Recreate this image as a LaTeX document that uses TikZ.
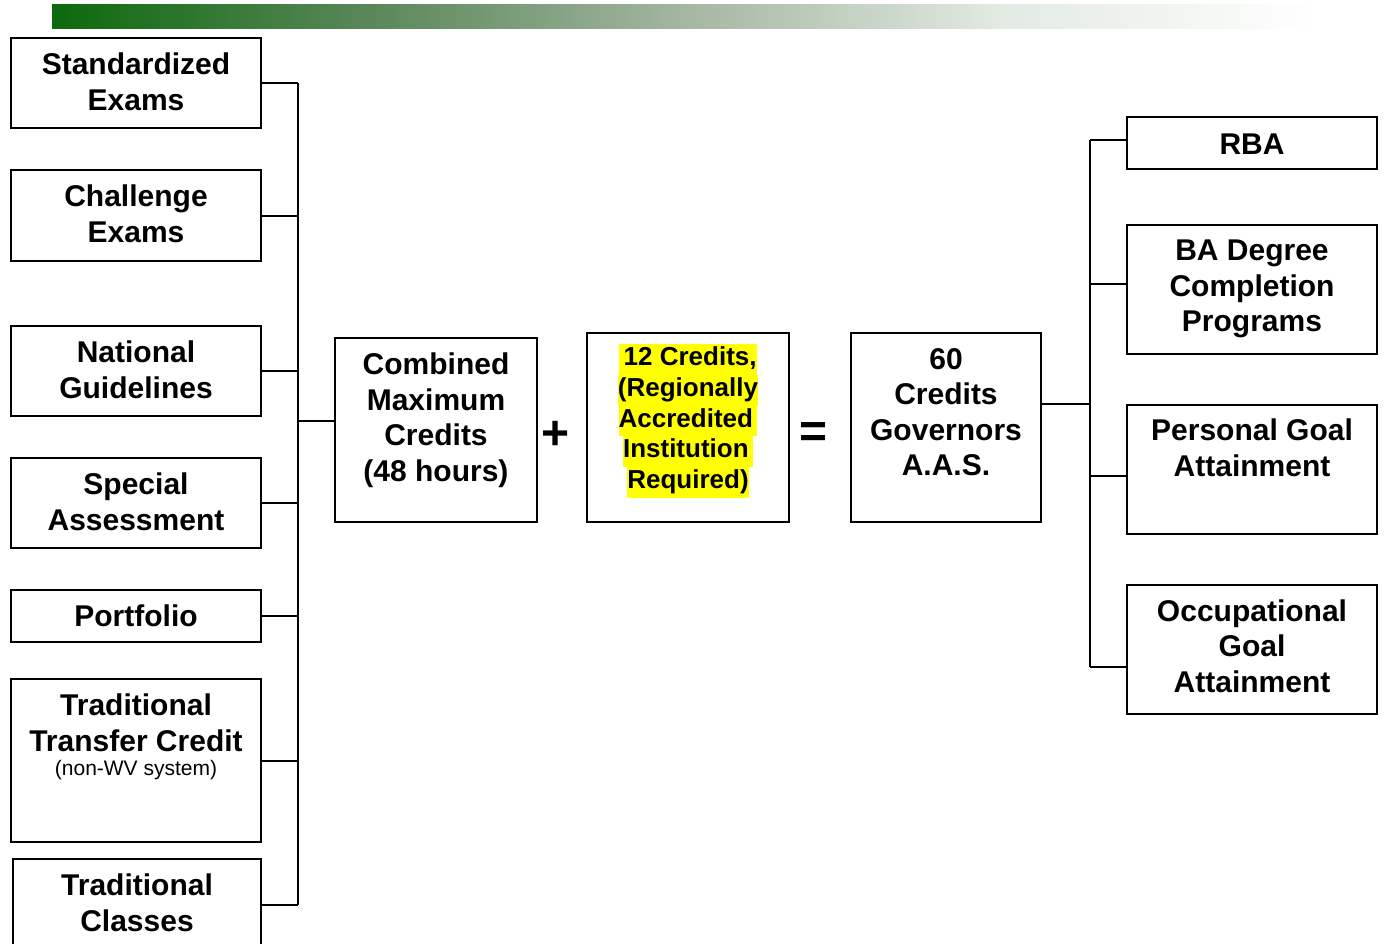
\documentclass[tikz,border=0pt]{standalone}
\usepackage{fontspec}
\setmainfont{Liberation Sans}
\definecolor{g0}{RGB}{12,105,12}
\definecolor{g1}{RGB}{90,135,90}
\definecolor{g2}{RGB}{165,182,162}
\definecolor{g3}{RGB}{226,234,226}
\definecolor{hly}{RGB}{255,255,0}
\pgfdeclarehorizontalshading{greenbar}{100bp}{color(0bp)=(g0); color(25bp)=(g0); color(37.5bp)=(g1); color(50bp)=(g2); color(62.5bp)=(g3); color(75bp)=(white); color(100bp)=(white)}
\newcommand{\hlline}[1]{{\setlength{\fboxsep}{0pt}\colorbox{hly}{\strut #1}}}
\begin{document}
\begin{tikzpicture}[x=1pt,y=-1pt,
  box/.style={draw, line width=2pt, inner sep=0pt, fill=white},
  lbl/.style={font=\bfseries\fontsize{30}{35.5}\selectfont, align=center, inner sep=0pt},
  sublbl/.style={font=\fontsize{21}{24}\selectfont, align=center, inner sep=0pt},
  hlbl/.style={font=\bfseries\fontsize{26}{30.75}\selectfont, align=center, inner sep=0pt},
  opsym/.style={font=\bfseries\fontsize{48}{56}\selectfont, inner sep=0pt},
  conn/.style={line width=2pt}]
\useasboundingbox (0,0) rectangle (1387,943);
\shade[shading=greenbar] (52,4) rectangle (1320,28);

% left boxes
\node[box, minimum width=250pt, minimum height=90pt] (se) at (136,83) {};
\node[box, minimum width=250pt, minimum height=91pt] (ce) at (136,215.5) {};
\node[box, minimum width=250pt, minimum height=90pt] (ng) at (136,371) {};
\node[box, minimum width=250pt, minimum height=90pt] (sa) at (136,503) {};
\node[box, minimum width=250pt, minimum height=52pt] (pf) at (136,616) {};
\node[box, minimum width=250pt, minimum height=163pt] (tt) at (136,760.5) {};
\node[box, minimum width=248pt, minimum height=91pt] (tc) at (137,904.5) {};

\node[lbl] (se-t) at (136,82) {Standardized\\Exams};
\node[lbl] (ce-t) at (136,214) {Challenge\\Exams};
\node[lbl] (ng-t) at (136,370) {National\\Guidelines};
\node[lbl] (sa-t) at (136,502) {Special\\Assessment};
\node[lbl] (pf-t) at (136,616) {Portfolio};
\node[lbl] (tt-t) at (136,723) {Traditional\\Transfer Credit};
\node[sublbl] (tt-s) at (136,770) {(non-WV system)};
\node[lbl] (tc-t) at (137,903) {Traditional\\Classes};

% middle boxes
\node[box, minimum width=202pt, minimum height=184pt] (cm) at (436,430) {};
\node[box, minimum width=202pt, minimum height=189pt] (yl) at (688,427.5) {};
\node[box, minimum width=190pt, minimum height=189pt] (sx) at (946,427.5) {};

\node[lbl] (cm-t) at (436,420) {Combined\\Maximum\\Credits\\(48 hours)};
\node[hlbl] (yl-t) at (688,421) {\hlline{\,12 Credits,}\\\hlline{(Regionally}\\\hlline{Accredited\,}\\\hlline{Institution\,}\\\hlline{Required)}};
\node[lbl] (sx-t) at (946,412) {60\\Credits\\Governors\\A.A.S.};

\node[opsym] (plus) at (556,435) {+};
\node[opsym] (eq) at (814,435.5) {=};

% right boxes
\node[box, minimum width=250pt, minimum height=52pt] (rba) at (1252,143) {};
\node[box, minimum width=250pt, minimum height=129pt] (ba) at (1252,289.5) {};
\node[box, minimum width=250pt, minimum height=129pt] (pg) at (1252,469.5) {};
\node[box, minimum width=250pt, minimum height=129pt] (og) at (1252,649.5) {};

\node[lbl] (rba-t) at (1252,144) {RBA};
\node[lbl] (ba-t) at (1252,289) {BA Degree\\Completion\\Programs};
\node[lbl] (pg-t) at (1252,448) {Personal Goal\\Attainment};
\node[lbl] (og-t) at (1252,646) {Occupational\\Goal\\Attainment};

% left bus
\coordinate (lbus) at (298,0);
\coordinate (cmin) at (335,421);
\foreach \b in {se,ce,ng,sa,pf,tt,tc}
  \draw[conn] (\b.east) -- (\b.east -| lbus);
\draw[conn] (se.east -| lbus) -- (tc.east -| lbus);
\draw[conn] (cmin) -- (cmin -| lbus);

% right bus
\coordinate (rbus) at (1090,0);
\coordinate (sxout) at (1041,404);
\coordinate (rbain) at (1127,140);
\coordinate (bain) at (1127,284);
\coordinate (pgin) at (1127,476);
\coordinate (ogin) at (1127,667);
\draw[conn] (sxout) -- (sxout -| rbus);
\draw[conn] (rbain -| rbus) -- (ogin -| rbus);
\foreach \c in {rbain,bain,pgin,ogin}
  \draw[conn] (\c) -- (\c -| rbus);
\end{tikzpicture}
\end{document}
